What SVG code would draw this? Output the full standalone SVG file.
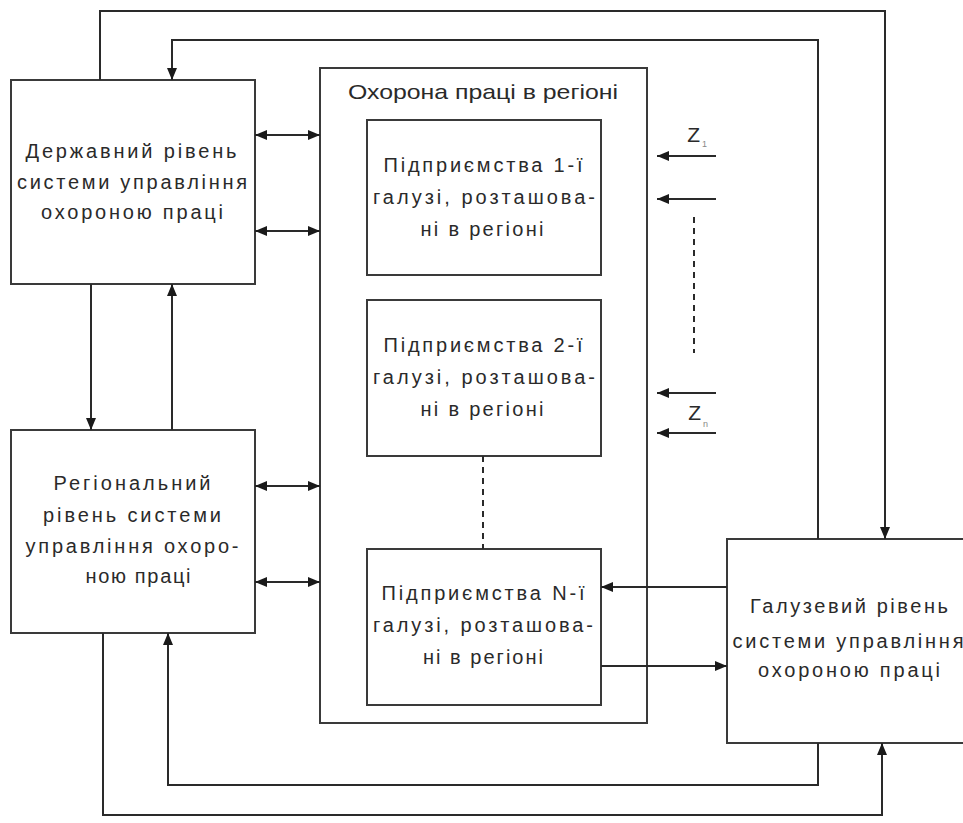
<svg xmlns="http://www.w3.org/2000/svg" width="963" height="823" viewBox="0 0 963 823">
<style>
.box{fill:#fff;stroke:#3a3a3a;stroke-width:2}
.ln{fill:none;stroke:#2a2a2a;stroke-width:2}
.dash{fill:none;stroke:#2a2a2a;stroke-width:2;stroke-dasharray:6 5}
text{font-family:"Liberation Sans",Arial,sans-serif;font-size:20px;fill:#2a2a2a;text-anchor:middle}
.ttl{font-size:21px}
.z{font-size:21px;text-anchor:end}
.sub{font-size:9px;fill:#888;text-anchor:start}
</style>
<defs>
<marker id="ah" viewBox="0 0 12 10" refX="12" refY="5" markerWidth="12" markerHeight="10" markerUnits="userSpaceOnUse" orient="auto-start-reverse">
<path d="M0,0 L12,5 L0,10 Z" fill="#1a1a1a"/>
</marker>
</defs>
<rect width="963" height="823" fill="#fff"/>

<g id="region">
<rect class="box" x="320" y="68" width="327" height="655"/>
<text class="ttl" x="483" y="99" textLength="270" lengthAdjust="spacingAndGlyphs">Охорона праці в регіоні</text>
</g>

<g id="state">
<rect class="box" x="11" y="80" width="244" height="204"/>
<text x="131" y="158" textLength="211" lengthAdjust="spacing">Державний рівень</text>
<text x="132" y="189" textLength="230" lengthAdjust="spacing">системи управління</text>
<text x="132" y="219" textLength="182" lengthAdjust="spacing">охороною праці</text>
</g>

<g id="regional">
<rect class="box" x="11" y="430" width="244" height="203"/>
<text x="132" y="490" textLength="157" lengthAdjust="spacing">Регіональний</text>
<text x="132" y="522" textLength="178" lengthAdjust="spacing">рівень системи</text>
<text x="132" y="553" textLength="213" lengthAdjust="spacing">управління охоро-</text>
<text x="138" y="583" textLength="105" lengthAdjust="spacing">ною праці</text>
</g>

<g id="ent1">
<rect class="box" x="367" y="120" width="234" height="155"/>
<text x="483" y="172" textLength="199" lengthAdjust="spacing">Підприємства 1-ї</text>
<text x="484" y="204" textLength="222" lengthAdjust="spacing">галузі, розташова-</text>
<text x="482" y="236" textLength="123" lengthAdjust="spacing">ні в регіоні</text>
</g>

<g id="ent2">
<rect class="box" x="367" y="300" width="234" height="156"/>
<text x="483" y="352" textLength="199" lengthAdjust="spacing">Підприємства 2-ї</text>
<text x="484" y="384" textLength="222" lengthAdjust="spacing">галузі, розташова-</text>
<text x="482" y="416" textLength="123" lengthAdjust="spacing">ні в регіоні</text>
</g>

<g id="entN">
<rect class="box" x="367" y="549" width="234" height="156"/>
<text x="483" y="600" textLength="203" lengthAdjust="spacing">Підприємства N-ї</text>
<text x="483" y="632" textLength="220" lengthAdjust="spacing">галузі, розташова-</text>
<text x="483" y="664" textLength="120" lengthAdjust="spacing">ні в регіоні</text>
</g>

<g id="branch">
<rect class="box" x="727" y="539" width="244" height="204"/>
<text x="849" y="613" textLength="198" lengthAdjust="spacing">Галузевий рівень</text>
<text x="848" y="648" textLength="231" lengthAdjust="spacing">системи управління</text>
<text x="849" y="677" textLength="182" lengthAdjust="spacing">охороною праці</text>
</g>

<g id="inputs">
<text class="z" x="700" y="142">Z</text>
<text class="sub" x="702" y="147">1</text>
<text class="z" x="701" y="420">Z</text>
<text class="sub" x="703" y="427">n</text>
</g>

<g id="connectors">
<path class="ln" d="M100,80 V11 H885 V539" marker-end="url(#ah)"/>
<path class="ln" d="M818,539 V40 H172 V80" marker-end="url(#ah)"/>
<path class="ln" d="M818,743 V785 H168 V633" marker-end="url(#ah)"/>
<path class="ln" d="M103,633 V815 H882 V743" marker-end="url(#ah)"/>
<path class="ln" d="M91,284 V430" marker-end="url(#ah)"/>
<path class="ln" d="M172,430 V284" marker-end="url(#ah)"/>
<path class="ln" d="M255,135 H320" marker-start="url(#ah)" marker-end="url(#ah)"/>
<path class="ln" d="M255,231 H320" marker-start="url(#ah)" marker-end="url(#ah)"/>
<path class="ln" d="M255,486 H320" marker-start="url(#ah)" marker-end="url(#ah)"/>
<path class="ln" d="M255,582 H320" marker-start="url(#ah)" marker-end="url(#ah)"/>
<path class="ln" d="M727,587 H601" marker-end="url(#ah)"/>
<path class="ln" d="M601,666 H727" marker-end="url(#ah)"/>
<path class="ln" d="M716,156 H657" marker-end="url(#ah)"/>
<path class="ln" d="M716,199 H657" marker-end="url(#ah)"/>
<path class="ln" d="M716,393 H657" marker-end="url(#ah)"/>
<path class="ln" d="M716,433 H657" marker-end="url(#ah)"/>
<path class="dash" d="M694,217 V353"/>
<path class="dash" d="M483,456 V549"/>
</g>
</svg>
